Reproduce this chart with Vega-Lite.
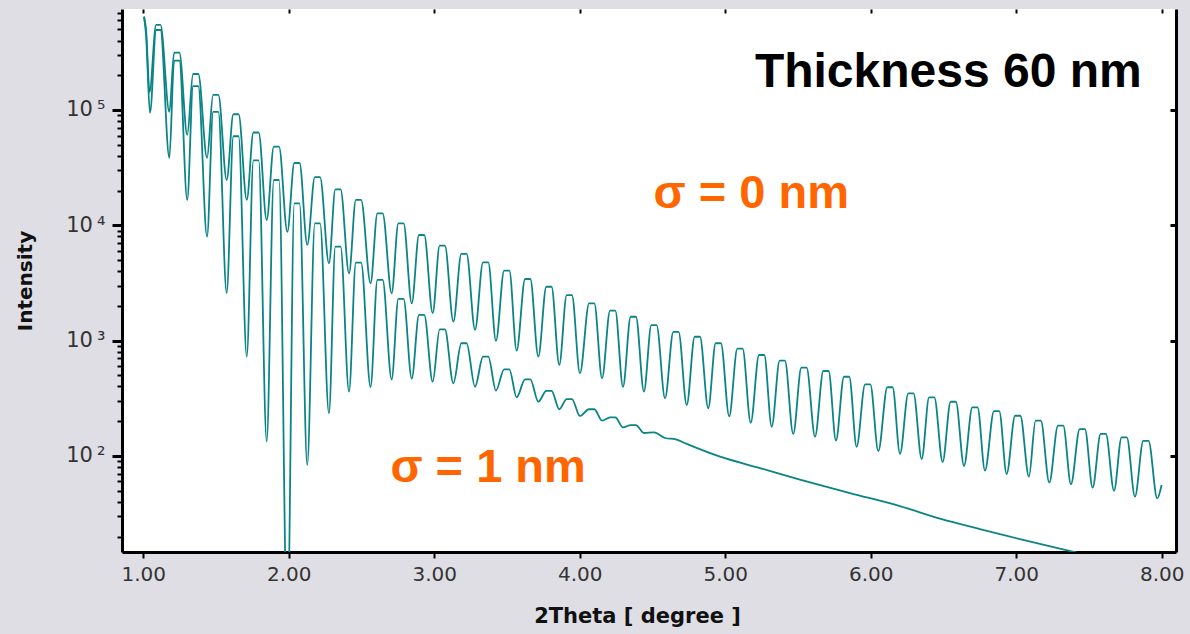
{
  "$schema": "https://vega.github.io/schema/vega-lite/v6.json",
  "width": 1054,
  "height": 543,
  "autosize": {"type": "none"},
  "padding": {"left": 122, "top": 9, "right": 14, "bottom": 82},
  "background": "#dfdee4",
  "config": {"view": {"fill": "white", "stroke": null}},
  "datasets": {
    "curves": [
      {"sigma":"0 nm","angle":1.005,"intensity":644000},{"sigma":"0 nm","angle":1.019,"intensity":494000},{"sigma":"0 nm","angle":1.043,"intensity":143000},{"sigma":"0 nm","angle":1.088,"intensity":546000},{"sigma":"0 nm","angle":1.118,"intensity":546000},{"sigma":"0 nm","angle":1.179,"intensity":96100},{"sigma":"0 nm","angle":1.212,"intensity":314000},{"sigma":"0 nm","angle":1.248,"intensity":314000},{"sigma":"0 nm","angle":1.302,"intensity":60700},{"sigma":"0 nm","angle":1.342,"intensity":205000},{"sigma":"0 nm","angle":1.378,"intensity":205000},{"sigma":"0 nm","angle":1.438,"intensity":38400},{"sigma":"0 nm","angle":1.48,"intensity":135000},{"sigma":"0 nm","angle":1.516,"intensity":135000},{"sigma":"0 nm","angle":1.573,"intensity":24700},{"sigma":"0 nm","angle":1.619,"intensity":91800},{"sigma":"0 nm","angle":1.655,"intensity":91800},{"sigma":"0 nm","angle":1.711,"intensity":16600},{"sigma":"0 nm","angle":1.757,"intensity":63800},{"sigma":"0 nm","angle":1.793,"intensity":63800},{"sigma":"0 nm","angle":1.848,"intensity":11100},{"sigma":"0 nm","angle":1.897,"intensity":48100},{"sigma":"0 nm","angle":1.933,"intensity":48100},{"sigma":"0 nm","angle":1.99,"intensity":8750},{"sigma":"0 nm","angle":2.038,"intensity":34700},{"sigma":"0 nm","angle":2.074,"intensity":34700},{"sigma":"0 nm","angle":2.127,"intensity":6750},{"sigma":"0 nm","angle":2.179,"intensity":26200},{"sigma":"0 nm","angle":2.215,"intensity":26200},{"sigma":"0 nm","angle":2.276,"intensity":4680},{"sigma":"0 nm","angle":2.32,"intensity":20500},{"sigma":"0 nm","angle":2.356,"intensity":20500},{"sigma":"0 nm","angle":2.414,"intensity":3830},{"sigma":"0 nm","angle":2.461,"intensity":16600},{"sigma":"0 nm","angle":2.497,"intensity":16600},{"sigma":"0 nm","angle":2.562,"intensity":3140},{"sigma":"0 nm","angle":2.609,"intensity":12700},{"sigma":"0 nm","angle":2.645,"intensity":12700},{"sigma":"0 nm","angle":2.707,"intensity":2570},{"sigma":"0 nm","angle":2.753,"intensity":10400},{"sigma":"0 nm","angle":2.789,"intensity":10400},{"sigma":"0 nm","angle":2.845,"intensity":2100},{"sigma":"0 nm","angle":2.895,"intensity":8240},{"sigma":"0 nm","angle":2.931,"intensity":8240},{"sigma":"0 nm","angle":2.989,"intensity":1730},{"sigma":"0 nm","angle":3.037,"intensity":6650},{"sigma":"0 nm","angle":3.073,"intensity":6650},{"sigma":"0 nm","angle":3.131,"intensity":1460},{"sigma":"0 nm","angle":3.186,"intensity":5640},{"sigma":"0 nm","angle":3.222,"intensity":5640},{"sigma":"0 nm","angle":3.28,"intensity":1240},{"sigma":"0 nm","angle":3.335,"intensity":4760},{"sigma":"0 nm","angle":3.371,"intensity":4760},{"sigma":"0 nm","angle":3.424,"intensity":993},{"sigma":"0 nm","angle":3.48,"intensity":4040},{"sigma":"0 nm","angle":3.516,"intensity":4040},{"sigma":"0 nm","angle":3.566,"intensity":817},{"sigma":"0 nm","angle":3.624,"intensity":3420},{"sigma":"0 nm","angle":3.66,"intensity":3420},{"sigma":"0 nm","angle":3.715,"intensity":725},{"sigma":"0 nm","angle":3.77,"intensity":2930},{"sigma":"0 nm","angle":3.806,"intensity":2930},{"sigma":"0 nm","angle":3.859,"intensity":614},{"sigma":"0 nm","angle":3.91,"intensity":2480},{"sigma":"0 nm","angle":3.946,"intensity":2480},{"sigma":"0 nm","angle":4.001,"intensity":520},{"sigma":"0 nm","angle":4.064,"intensity":2100},{"sigma":"0 nm","angle":4.1,"intensity":2100},{"sigma":"0 nm","angle":4.153,"intensity":471},{"sigma":"0 nm","angle":4.208,"intensity":1820},{"sigma":"0 nm","angle":4.244,"intensity":1820},{"sigma":"0 nm","angle":4.297,"intensity":398},{"sigma":"0 nm","angle":4.35,"intensity":1610},{"sigma":"0 nm","angle":4.386,"intensity":1610},{"sigma":"0 nm","angle":4.441,"intensity":361},{"sigma":"0 nm","angle":4.492,"intensity":1360},{"sigma":"0 nm","angle":4.528,"intensity":1360},{"sigma":"0 nm","angle":4.586,"intensity":316},{"sigma":"0 nm","angle":4.643,"intensity":1190},{"sigma":"0 nm","angle":4.679,"intensity":1190},{"sigma":"0 nm","angle":4.735,"intensity":276},{"sigma":"0 nm","angle":4.79,"intensity":1080},{"sigma":"0 nm","angle":4.826,"intensity":1080},{"sigma":"0 nm","angle":4.883,"intensity":259},{"sigma":"0 nm","angle":4.934,"intensity":948},{"sigma":"0 nm","angle":4.97,"intensity":948},{"sigma":"0 nm","angle":5.027,"intensity":220},{"sigma":"0 nm","angle":5.083,"intensity":851},{"sigma":"0 nm","angle":5.119,"intensity":851},{"sigma":"0 nm","angle":5.175,"intensity":194},{"sigma":"0 nm","angle":5.232,"intensity":750},{"sigma":"0 nm","angle":5.268,"intensity":750},{"sigma":"0 nm","angle":5.319,"intensity":179},{"sigma":"0 nm","angle":5.374,"intensity":670},{"sigma":"0 nm","angle":5.41,"intensity":670},{"sigma":"0 nm","angle":5.467,"intensity":155},{"sigma":"0 nm","angle":5.523,"intensity":582},{"sigma":"0 nm","angle":5.559,"intensity":582},{"sigma":"0 nm","angle":5.617,"intensity":147},{"sigma":"0 nm","angle":5.674,"intensity":545},{"sigma":"0 nm","angle":5.71,"intensity":545},{"sigma":"0 nm","angle":5.761,"intensity":136},{"sigma":"0 nm","angle":5.816,"intensity":486},{"sigma":"0 nm","angle":5.852,"intensity":486},{"sigma":"0 nm","angle":5.903,"intensity":120},{"sigma":"0 nm","angle":5.961,"intensity":418},{"sigma":"0 nm","angle":5.997,"intensity":418},{"sigma":"0 nm","angle":6.052,"intensity":110},{"sigma":"0 nm","angle":6.114,"intensity":394},{"sigma":"0 nm","angle":6.15,"intensity":394},{"sigma":"0 nm","angle":6.201,"intensity":104},{"sigma":"0 nm","angle":6.258,"intensity":349},{"sigma":"0 nm","angle":6.294,"intensity":349},{"sigma":"0 nm","angle":6.35,"intensity":94},{"sigma":"0 nm","angle":6.401,"intensity":322},{"sigma":"0 nm","angle":6.437,"intensity":322},{"sigma":"0 nm","angle":6.494,"intensity":88.5},{"sigma":"0 nm","angle":6.549,"intensity":295},{"sigma":"0 nm","angle":6.585,"intensity":295},{"sigma":"0 nm","angle":6.641,"intensity":81.7},{"sigma":"0 nm","angle":6.698,"intensity":264},{"sigma":"0 nm","angle":6.734,"intensity":264},{"sigma":"0 nm","angle":6.785,"intensity":74.5},{"sigma":"0 nm","angle":6.847,"intensity":245},{"sigma":"0 nm","angle":6.883,"intensity":245},{"sigma":"0 nm","angle":6.934,"intensity":69.7},{"sigma":"0 nm","angle":6.992,"intensity":223},{"sigma":"0 nm","angle":7.028,"intensity":223},{"sigma":"0 nm","angle":7.087,"intensity":66.1},{"sigma":"0 nm","angle":7.133,"intensity":202},{"sigma":"0 nm","angle":7.169,"intensity":202},{"sigma":"0 nm","angle":7.227,"intensity":58.6},{"sigma":"0 nm","angle":7.287,"intensity":183},{"sigma":"0 nm","angle":7.323,"intensity":183},{"sigma":"0 nm","angle":7.376,"intensity":56.8},{"sigma":"0 nm","angle":7.436,"intensity":171},{"sigma":"0 nm","angle":7.472,"intensity":171},{"sigma":"0 nm","angle":7.525,"intensity":53},{"sigma":"0 nm","angle":7.58,"intensity":155},{"sigma":"0 nm","angle":7.616,"intensity":155},{"sigma":"0 nm","angle":7.672,"intensity":49.9},{"sigma":"0 nm","angle":7.724,"intensity":145},{"sigma":"0 nm","angle":7.76,"intensity":145},{"sigma":"0 nm","angle":7.816,"intensity":44.3},{"sigma":"0 nm","angle":7.873,"intensity":135},{"sigma":"0 nm","angle":7.909,"intensity":135},{"sigma":"0 nm","angle":7.969,"intensity":42.9},{"sigma":"0 nm","angle":7.999,"intensity":56},
      {"sigma":"1 nm","angle":1.005,"intensity":644000},{"sigma":"1 nm","angle":1.019,"intensity":447000},{"sigma":"1 nm","angle":1.046,"intensity":94200},{"sigma":"1 nm","angle":1.088,"intensity":494000},{"sigma":"1 nm","angle":1.118,"intensity":494000},{"sigma":"1 nm","angle":1.179,"intensity":38400},{"sigma":"1 nm","angle":1.212,"intensity":268000},{"sigma":"1 nm","angle":1.248,"intensity":268000},{"sigma":"1 nm","angle":1.302,"intensity":16600},{"sigma":"1 nm","angle":1.342,"intensity":161000},{"sigma":"1 nm","angle":1.378,"intensity":161000},{"sigma":"1 nm","angle":1.438,"intensity":7960},{"sigma":"1 nm","angle":1.48,"intensity":96100},{"sigma":"1 nm","angle":1.516,"intensity":96100},{"sigma":"1 nm","angle":1.573,"intensity":2590},{"sigma":"1 nm","angle":1.619,"intensity":59200},{"sigma":"1 nm","angle":1.655,"intensity":59200},{"sigma":"1 nm","angle":1.711,"intensity":725},{"sigma":"1 nm","angle":1.757,"intensity":36500},{"sigma":"1 nm","angle":1.793,"intensity":36500},{"sigma":"1 nm","angle":1.848,"intensity":133},{"sigma":"1 nm","angle":1.897,"intensity":24700},{"sigma":"1 nm","angle":1.933,"intensity":24700},{"sigma":"1 nm","angle":1.99,"intensity":3},{"sigma":"1 nm","angle":2.038,"intensity":15500},{"sigma":"1 nm","angle":2.074,"intensity":15500},{"sigma":"1 nm","angle":2.127,"intensity":83.4},{"sigma":"1 nm","angle":2.179,"intensity":10400},{"sigma":"1 nm","angle":2.215,"intensity":10400},{"sigma":"1 nm","angle":2.276,"intensity":234},{"sigma":"1 nm","angle":2.32,"intensity":6520},{"sigma":"1 nm","angle":2.356,"intensity":6520},{"sigma":"1 nm","angle":2.414,"intensity":361},{"sigma":"1 nm","angle":2.461,"intensity":4740},{"sigma":"1 nm","angle":2.497,"intensity":4740},{"sigma":"1 nm","angle":2.562,"intensity":396},{"sigma":"1 nm","angle":2.609,"intensity":3360},{"sigma":"1 nm","angle":2.645,"intensity":3360},{"sigma":"1 nm","angle":2.707,"intensity":460},{"sigma":"1 nm","angle":2.753,"intensity":2300},{"sigma":"1 nm","angle":2.789,"intensity":2300},{"sigma":"1 nm","angle":2.845,"intensity":469},{"sigma":"1 nm","angle":2.895,"intensity":1670},{"sigma":"1 nm","angle":2.931,"intensity":1670},{"sigma":"1 nm","angle":2.989,"intensity":440},{"sigma":"1 nm","angle":3.037,"intensity":1250},{"sigma":"1 nm","angle":3.073,"intensity":1250},{"sigma":"1 nm","angle":3.131,"intensity":426},{"sigma":"1 nm","angle":3.186,"intensity":948},{"sigma":"1 nm","angle":3.222,"intensity":948},{"sigma":"1 nm","angle":3.28,"intensity":398},{"sigma":"1 nm","angle":3.335,"intensity":725},{"sigma":"1 nm","angle":3.371,"intensity":725},{"sigma":"1 nm","angle":3.424,"intensity":369},{"sigma":"1 nm","angle":3.48,"intensity":564},{"sigma":"1 nm","angle":3.516,"intensity":564},{"sigma":"1 nm","angle":3.566,"intensity":322},{"sigma":"1 nm","angle":3.624,"intensity":461},{"sigma":"1 nm","angle":3.66,"intensity":461},{"sigma":"1 nm","angle":3.715,"intensity":295},{"sigma":"1 nm","angle":3.77,"intensity":367},{"sigma":"1 nm","angle":3.806,"intensity":367},{"sigma":"1 nm","angle":3.859,"intensity":254},{"sigma":"1 nm","angle":3.91,"intensity":311},{"sigma":"1 nm","angle":3.946,"intensity":311},{"sigma":"1 nm","angle":4.001,"intensity":222},{"sigma":"1 nm","angle":4.064,"intensity":254},{"sigma":"1 nm","angle":4.1,"intensity":254},{"sigma":"1 nm","angle":4.153,"intensity":202},{"sigma":"1 nm","angle":4.208,"intensity":216},{"sigma":"1 nm","angle":4.244,"intensity":216},{"sigma":"1 nm","angle":4.297,"intensity":177},{"sigma":"1 nm","angle":4.35,"intensity":185},{"sigma":"1 nm","angle":4.386,"intensity":185},{"sigma":"1 nm","angle":4.441,"intensity":158},{"sigma":"1 nm","angle":4.51,"intensity":160},{"sigma":"1 nm","angle":4.586,"intensity":143},{"sigma":"1 nm","angle":4.661,"intensity":139},{"sigma":"1 nm","angle":4.735,"intensity":127},{"sigma":"1 nm","angle":4.964,"intensity":98.4},{"sigma":"1 nm","angle":5.238,"intensity":78.5},{"sigma":"1 nm","angle":5.513,"intensity":62.4},{"sigma":"1 nm","angle":5.857,"intensity":47.6},{"sigma":"1 nm","angle":6.2,"intensity":36.7},{"sigma":"1 nm","angle":6.476,"intensity":28.6},{"sigma":"1 nm","angle":6.75,"intensity":23.2},{"sigma":"1 nm","angle":7.025,"intensity":19.0},{"sigma":"1 nm","angle":7.321,"intensity":15.5},{"sigma":"1 nm","angle":7.575,"intensity":13.0},{"sigma":"1 nm","angle":7.999,"intensity":9.64}
    ],
    "notes": [
      {"label": "σ = 0 nm", "angle": 5.179, "intensity": 14100},
      {"label": "σ = 1 nm", "angle": 3.37, "intensity": 59.4}
    ],
    "heading": [
      {"label": "Thickness 60 nm", "angle": 6.533, "intensity": 158000}
    ]
  },
  "layer": [
    {
      "data": {"name": "curves"},
      "transform": [{"filter": "datum.sigma == '0 nm'"}],
      "mark": {"type": "line", "color": "#0a8484", "strokeWidth": 1.8, "clip": true, "interpolate": "monotone"},
      "encoding": {
        "x": {"field": "angle", "type": "quantitative",
          "scale": {"domain": [0.8536, 8.098], "nice": false, "zero": false},
          "axis": {"orient": "bottom", "values": [1,2,3,4,5,6,7,8], "format": ".2f", "grid": false,
            "domainColor": "black", "domainWidth": 3, "tickColor": "black", "tickWidth": 2, "tickSize": 6,
            "labelFont": "DejaVu Sans", "labelFontSize": 20, "labelColor": "#333", "labelPadding": 6, "labelFlush": false,
            "title": "2Theta [ degree ]", "titleFont": "DejaVu Sans", "titleFontSize": 21, "titleFontWeight": "bold", "titleColor": "#111",
            "titleX": 515, "titleY": 70, "titleBaseline": "alphabetic", "titleAlign": "center"}},
        "y": {"field": "intensity", "type": "quantitative",
          "scale": {"type": "log", "domain": [14.68, 751000], "nice": false},
          "axis": {"orient": "left", "grid": false,
            "values": [20,30,40,50,60,70,80,90,100,200,300,400,500,600,700,800,900,1000,2000,3000,4000,5000,6000,7000,8000,9000,10000,20000,30000,40000,50000,60000,70000,80000,90000,100000,200000,300000,400000,500000,600000,700000],
            "labelExpr": "datum.value == 100 ? '10\u2009²' : datum.value == 1000 ? '10\u2009³' : datum.value == 10000 ? '10\u2009⁴' : datum.value == 100000 ? '10\u2009⁵' : ''",
            "labelOverlap": false, "labelFlush": false,
            "domainColor": "black", "domainWidth": 3, "tickColor": "black",
            "tickSize": {"condition": {"test": "indexof([100,1000,10000,100000], datum.value) >= 0", "value": 10}, "value": 5},
            "tickWidth": {"condition": {"test": "indexof([100,1000,10000,100000], datum.value) >= 0", "value": 3}, "value": 2},
            "labelFont": "DejaVu Sans", "labelFontSize": 21, "labelColor": "#333", "labelPadding": 7,
            "title": "Intensity", "titleFont": "DejaVu Sans", "titleFontSize": 20, "titleFontWeight": "bold", "titleColor": "#111",
            "titleAngle": 270, "titleX": -91, "titleY": 271.5, "titleBaseline": "alphabetic", "titleAlign": "center"}}
      }
    },
    {
      "data": {"name": "curves"},
      "transform": [{"filter": "datum.sigma == '1 nm'"}],
      "mark": {"type": "line", "color": "#0a8484", "strokeWidth": 1.8, "clip": true, "interpolate": "monotone"},
      "encoding": {
        "x": {"field": "angle", "type": "quantitative",
          "scale": {"domain": [0.8536, 8.098], "nice": false, "zero": false},
          "axis": {"orient": "top", "values": [1,2,3,4,5,6,7,8], "labels": false, "domain": false, "grid": false,
            "tickColor": "black", "tickWidth": 2, "tickSize": -4, "title": null}},
        "y": {"field": "intensity", "type": "quantitative",
          "scale": {"type": "log", "domain": [14.68, 751000], "nice": false},
          "axis": {"orient": "right", "values": [100,1000,10000,100000], "labels": false, "grid": false,
            "domainColor": "black", "domainWidth": 3, "tickColor": "black", "tickWidth": 3, "tickSize": -6, "title": null}}
      }
    },
    {
      "data": {"name": "heading"},
      "mark": {"type": "text", "font": "Liberation Sans", "fontWeight": "bold", "fontSize": 48, "color": "black", "align": "center", "baseline": "alphabetic"},
      "encoding": {
        "x": {"field": "angle", "type": "quantitative", "scale": {"domain": [0.8536, 8.098], "nice": false, "zero": false}, "axis": null},
        "y": {"field": "intensity", "type": "quantitative", "scale": {"type": "log", "domain": [14.68, 751000], "nice": false}, "axis": null},
        "text": {"field": "label"}
      }
    },
    {
      "data": {"name": "notes"},
      "mark": {"type": "text", "font": "Liberation Sans", "fontWeight": "bold", "fontSize": 47, "color": "#ff6600", "align": "center", "baseline": "alphabetic"},
      "encoding": {
        "x": {"field": "angle", "type": "quantitative", "scale": {"domain": [0.8536, 8.098], "nice": false, "zero": false}, "axis": null},
        "y": {"field": "intensity", "type": "quantitative", "scale": {"type": "log", "domain": [14.68, 751000], "nice": false}, "axis": null},
        "text": {"field": "label"}
      }
    }
  ],
  "resolve": {"axis": {"x": "independent", "y": "independent"}}
}
